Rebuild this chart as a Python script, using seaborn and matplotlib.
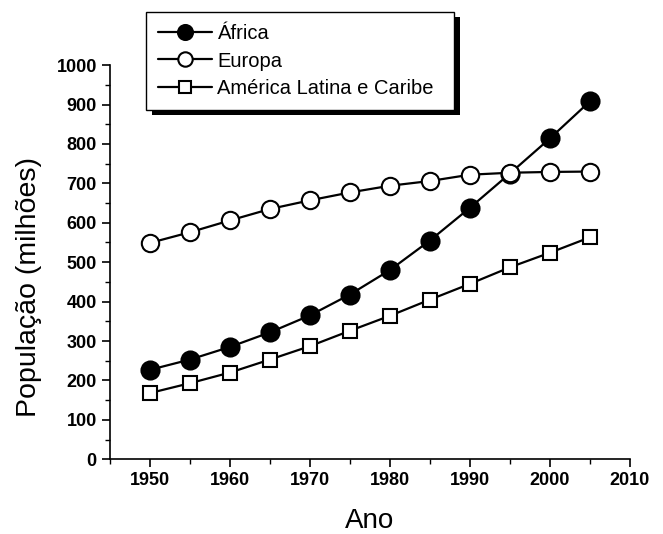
import matplotlib
matplotlib.use("Agg")
import matplotlib.pyplot as plt
import seaborn as sns
import pandas as pd
from matplotlib.patches import Rectangle
from matplotlib.ticker import MultipleLocator

anos = [1950, 1955, 1960, 1965, 1970, 1975, 1980, 1985, 1990, 1995, 2000, 2005]
africa = [227, 253, 285, 322, 365, 418, 480, 555, 638, 725, 814, 908]
europa = [549, 576, 606, 635, 657, 677, 694, 706, 722, 727, 729, 730]
america_latina = [168, 193, 220, 253, 287, 326, 364, 405, 445, 487, 524, 563]
series_names = ["África", "Europa", "América Latina e Caribe"]

sns.set_style("ticks")
plt.rcParams['font.family'] = ['Liberation Sans', 'DejaVu Sans']
plt.rcParams['text.color'] = 'black'
plt.rcParams['axes.labelcolor'] = 'black'

fig = plt.figure(figsize=(6.63, 5.34), dpi=100)
ax = fig.add_axes([0.166, 0.140, 0.784, 0.738])

styles = [
    dict(marker="o", markerfacecolor="black", markersize=13),
    dict(marker="o", markerfacecolor="white", markersize=12.5),
    dict(marker="s", markerfacecolor="white", markersize=10.5),
]
for name, vals, st in zip(series_names, [africa, europa, america_latina], styles):
    df = pd.DataFrame({"Ano": anos, "Pop": vals})
    sns.lineplot(data=df, x="Ano", y="Pop", ax=ax, color="black", linewidth=1.6,
                 markeredgecolor="black", markeredgewidth=1.5, label=name, **st)

ax.set_xlim(1945, 2010)
ax.set_ylim(0, 1000)
ax.xaxis.set_minor_locator(MultipleLocator(5))
ax.yaxis.set_major_locator(MultipleLocator(100))
ax.yaxis.set_minor_locator(MultipleLocator(50))
ax.set_xticks([1950, 1960, 1970, 1980, 1990, 2000, 2010])
for s in ["top", "right"]:
    ax.spines[s].set_visible(False)
for s in ["left", "bottom"]:
    ax.spines[s].set_linewidth(1.2)
    ax.spines[s].set_color("black")
ax.tick_params(which="major", direction="out", length=6, width=1.2, colors="black",
               labelsize=13, labelcolor="black")
ax.tick_params(which="minor", direction="out", length=3.5, width=1.0, colors="black")
for lab in ax.get_xticklabels() + ax.get_yticklabels():
    lab.set_fontweight("bold")
ax.set_xlabel("Ano", fontsize=20, color="black")
ax.set_ylabel("População (milhões)", fontsize=20.5, color="black")
ax.xaxis.set_label_coords(0.5, -0.124)
ax.yaxis.set_label_coords(-0.130, 0.437)

ax.get_legend().remove()
handles, labels = ax.get_legend_handles_labels()
leg = fig.legend(handles, labels, loc="upper left", bbox_to_anchor=(146/663, 1 - 12/534),
                 frameon=False, fontsize=14.5,
                 handlelength=2.7, handletextpad=0.25, borderpad=0.6, labelspacing=0.42,
                 borderaxespad=0, markerscale=0.83)
leg.set_zorder(10)
for t in leg.get_texts():
    t.set_color("black")

fig.canvas.draw()
bb = leg.get_window_extent()
extra = 8
frame = Rectangle((bb.x0, bb.y0), bb.width + extra, bb.height, transform=None,
                  facecolor="white", edgecolor="black", linewidth=1.0, zorder=9)
shadow = Rectangle((bb.x0 + 6, bb.y0 - 5), bb.width + extra, bb.height, transform=None,
                   facecolor="black", edgecolor="none", zorder=8)
fig.add_artist(shadow)
fig.add_artist(frame)

fig.savefig("out.png", dpi=100)
